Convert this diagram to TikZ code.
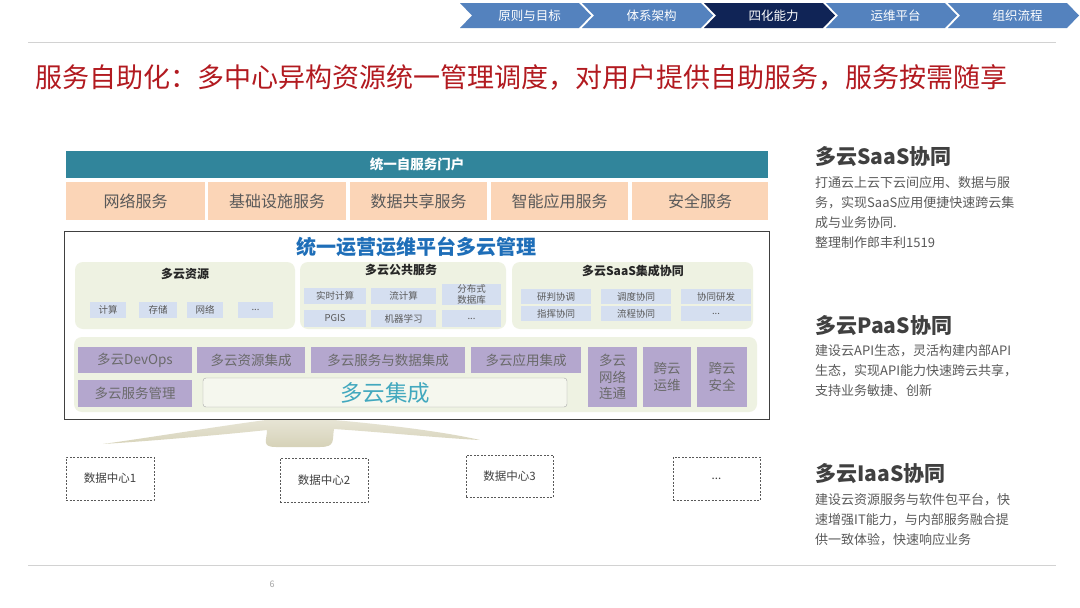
\documentclass[tikz,border=0pt]{standalone}
\usepackage{fontspec}
\setmainfont{Noto Sans CJK SC}
\definecolor{navL}{RGB}{84,130,190}
\definecolor{navD}{RGB}{16,36,86}
\definecolor{titred}{RGB}{178,26,32}
\definecolor{teal}{RGB}{49,133,155}
\definecolor{peach}{RGB}{251,213,183}
\definecolor{txtg}{RGB}{89,89,89}
\definecolor{txtd}{RGB}{64,64,64}
\definecolor{panel}{RGB}{238,242,226}
\definecolor{subb}{RGB}{213,223,240}
\definecolor{purp}{RGB}{180,167,206}
\definecolor{ptitle}{RGB}{30,110,184}
\definecolor{aqua}{RGB}{66,168,190}
\definecolor{fanc}{RGB}{214,210,184}
\definecolor{lineg}{RGB}{210,210,210}
\newcommand\bxnode[7]{%
 \pgfmathsetmacro\bxw{#4-#2}\pgfmathsetmacro\bxh{#5-#3}%
 \node[#6, minimum width=\bxw pt, minimum height=\bxh pt, inner sep=0pt] (#1) at ({(#2+#4)/2},{(#3+#5)/2}) {#7};}
\newcommand\fsz[1]{\fontsize{#1}{#1}\selectfont}
\tikzset{
  peachbox/.style={fill=peach, text=txtg, font=\fsz{16}},
  panelbox/.style={fill=panel, rounded corners=8pt},
  subbox/.style={fill=subb, text=txtg, font=\fsz{9.5}, align=center},
  purpbox/.style={fill=purp, text=txtg!90, font=\fsz{13.5}, align=center},
  dcbox/.style={draw=txtg, dash pattern=on 2pt off 1.5pt, line width=0.7pt, text=txtd, font=\fsz{11.5}},
  phead/.style={text=black!85, font=\bfseries\fsz{12}},
  rtitle/.style={anchor=west, text=txtd, font=\bfseries\fsz{21}},
  rbody/.style={anchor=north west, text=txtg, font=\fontsize{13}{20}\selectfont, align=left, inner sep=0pt},
}
\begin{document}
\begin{tikzpicture}[x=1pt,y=-1pt]
\useasboundingbox[fill=white] (0,0) rectangle (1080,608);
% navigation chevrons
\foreach \i/\t/\c in {0/原则与目标/navL,1/体系架构/navL,2/四化能力/navD,3/运维平台/navL,4/组织流程/navL}{
  \pgfmathsetmacro\L{460+122*\i}
  \pgfmathsetmacro\R{\L+131}
  \fill[\c] (\L,3) -- (\R-12,3) -- (\R,15.5) -- (\R-12,28) -- (\L,28) -- (\L+12,15.5) -- cycle;
  \node[text=white, font=\fsz{12.5}] (nav\i) at ({(\L+\R)/2+4},15.5) {\t};
}
\draw[lineg, line width=1pt] (28,42) -- (1056,42);
\node[anchor=west, text=titred, font=\fsz{27}, inner sep=0pt] (title) at (35,78)
  {服务自助化：多中心异构资源统一管理调度，对用户提供自助服务，服务按需随享};
% portal
\bxnode{portal}{66}{151}{768}{178}{fill=teal, text=white, font=\bfseries\fsz{13.5}}{统一自服务门户}
\bxnode{s1}{66}{182}{205}{220}{peachbox}{网络服务}
\bxnode{s2}{208}{182}{346}{220}{peachbox}{基础设施服务}
\bxnode{s3}{350}{182}{487}{220}{peachbox}{数据共享服务}
\bxnode{s4}{491}{182}{628}{220}{peachbox}{智能应用服务}
\bxnode{s5}{632}{182}{768}{220}{peachbox}{安全服务}
% platform box
\bxnode{plat}{64}{231}{769}{419}{draw=black!75, line width=1pt, fill=white}{}
\node[text=ptitle, font=\bfseries\fsz{20}] (plattitle) at (416,247) {统一运营运维平台多云管理};
% resource panels
\bxnode{pa}{75}{262}{295}{329}{panelbox}{}
\bxnode{pb}{300}{262}{506}{329}{panelbox}{}
\bxnode{pc}{512}{262}{753}{329}{panelbox}{}
\node[phead] (pah) at (185,274) {多云资源};
\node[phead] (pbh) at (401,270) {多云公共服务};
\node[phead] (pch) at (633,271) {多云SaaS集成协同};
\bxnode{a1}{90}{302}{126}{318}{subbox}{计算}
\bxnode{a2}{139}{302}{177}{318}{subbox}{存储}
\bxnode{a3}{187}{302}{223}{318}{subbox}{网络}
\bxnode{a4}{238}{302}{273}{318}{subbox}{...}
\bxnode{b1}{304}{288}{366}{304}{subbox}{实时计算}
\bxnode{b2}{371}{288}{436}{304}{subbox}{流计算}
\bxnode{b3}{442}{284}{501}{305}{subbox, font=\fontsize{9.5}{10.5}\selectfont}{分布式\\数据库}
\bxnode{b4}{304}{310}{366}{327}{subbox}{PGIS}
\bxnode{b5}{371}{310}{436}{327}{subbox}{机器学习}
\bxnode{b6}{442}{310}{501}{327}{subbox}{...}
\bxnode{c1}{521}{289}{591}{304}{subbox}{研判协调}
\bxnode{c2}{601}{289}{671}{304}{subbox}{调度协同}
\bxnode{c3}{681}{289}{751}{304}{subbox}{协同研发}
\bxnode{c4}{521}{306}{591}{321}{subbox}{指挥协同}
\bxnode{c5}{601}{306}{671}{321}{subbox}{流程协同}
\bxnode{c6}{681}{306}{751}{321}{subbox}{...}
% integration panel
\bxnode{pd}{74}{337}{757}{412}{panelbox}{}
\bxnode{d1}{78}{347}{192}{373}{purpbox}{多云DevOps}
\bxnode{d2}{197}{347}{305}{373}{purpbox}{多云资源集成}
\bxnode{d3}{311}{347}{465}{373}{purpbox}{多云服务与数据集成}
\bxnode{d4}{471}{347}{581}{373}{purpbox}{多云应用集成}
\bxnode{d5}{78}{380}{192}{407}{purpbox}{多云服务管理}
\bxnode{dc}{203}{378}{567}{407}{fill=panel!60, draw=black!35, rounded corners=3pt, text=aqua, font=\fsz{22.5}}{多云集成}
\bxnode{d6}{588}{347}{637}{407}{purpbox, font=\fontsize{13.5}{16.5}\selectfont}{多云\\网络\\连通}
\bxnode{d7}{643}{347}{691}{407}{purpbox, font=\fontsize{13.5}{16.5}\selectfont}{跨云\\运维}
\bxnode{d8}{697}{347}{747}{407}{purpbox, font=\fontsize{13.5}{16.5}\selectfont}{跨云\\安全}
% fan
\path[top color=fanc!60!white, bottom color=fanc] (266,420) -- (334,420)
  .. controls (390,425) and (445,432) .. (480,440)
  .. controls (440,438) and (380,432) .. (334,429)
  .. controls (332,440) and (336,447) .. (320,447)
  -- (276,447)
  .. controls (261,447) and (267,440) .. (267,430)
  .. controls (220,435) and (150,441) .. (103,444)
  .. controls (160,436) and (220,426) .. (266,420) -- cycle;
% data centres
\bxnode{dc1}{66}{457}{154}{500}{dcbox}{数据中心1}
\bxnode{dc2}{280}{458}{368}{502}{dcbox}{数据中心2}
\bxnode{dc3}{466}{455}{553}{497}{dcbox}{数据中心3}
\bxnode{dc4}{673}{457}{760}{500}{dcbox}{...}
% right texts
\node[rtitle] (rt1) at (812,157) {多云SaaS协同};
\node[rbody] (rb1) at (815,176) {打通云上云下云间应用、数据与服\\务，实现SaaS应用便捷快速跨云集\\成与业务协同.\\整理制作郎丰利1519};
\node[rtitle] (rt2) at (812,326) {多云PaaS协同};
\node[rbody] (rb2) at (815,344) {建设云API生态，灵活构建内部API\\生态，实现API能力快速跨云共享，\\支持业务敏捷、创新};
\node[rtitle] (rt3) at (812,474) {多云IaaS协同};
\node[rbody] (rb3) at (815,493) {建设云资源服务与软件包平台，快\\速增强IT能力，与内部服务融合提\\供一致体验，快速响应业务};
% footer
\draw[lineg, line width=1pt] (28,565) -- (1056,565);
\node[text=black!35, font=\fsz{9}] (pg) at (272,584) {6};
\end{tikzpicture}
\end{document}
